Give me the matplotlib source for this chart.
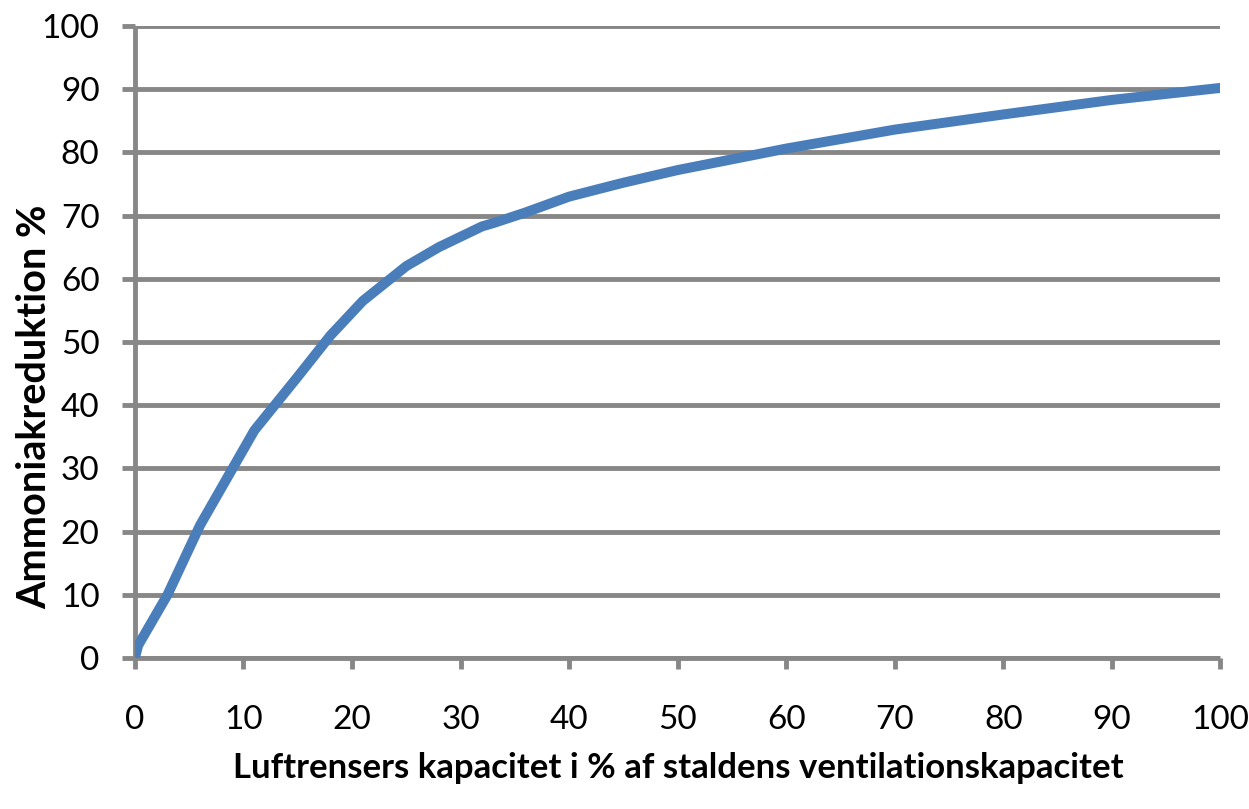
import matplotlib
matplotlib.use('Agg')
import matplotlib.pyplot as plt

plt.rcParams['font.family'] = ['Lato', 'DejaVu Sans']

# Luftrenserens kapacitet (%) og ammoniakreduktion (%)
kapacitet = [0, 0.3, 3, 6, 8, 11, 15, 18, 21, 25, 28, 32, 33, 36, 40, 45, 50, 60, 70, 80, 90, 100]
reduktion = [0, 2, 10, 21, 27, 36, 44.5, 51, 56.5, 62, 65, 68.3, 68.8, 70.5, 73.0, 75.2, 77.2, 80.6, 83.6, 86.0, 88.3, 90.2]

x_ticks = list(range(0, 101, 10))
y_ticks = list(range(0, 101, 10))

grey = '#878787'
fig = plt.figure(figsize=(12.49, 8.09), dpi=100)
ax = fig.add_axes([0.108, 0.1866, 0.869, 0.7813])

ax.plot(kapacitet, reduktion, color='#4a7ebb', linewidth=7.2,
        solid_capstyle='round', solid_joinstyle='round', zorder=3)

ax.set_xlim(0, 100)
ax.set_ylim(0, 100)
ax.set_xticks(x_ticks)
ax.set_yticks(y_ticks)
ax.grid(axis='y', color=grey, linewidth=3.5, zorder=1)
ax.set_axisbelow(True)

for side in ['top', 'right']:
    ax.spines[side].set_visible(False)
for side in ['left', 'bottom']:
    ax.spines[side].set_color(grey)
    ax.spines[side].set_linewidth(3.5)
    ax.spines[side].set_capstyle('butt')

ax.tick_params(axis='x', direction='out', length=8, width=3.5, color=grey,
               labelsize=24, pad=26)
ax.tick_params(axis='y', direction='out', length=9.5, width=3.5, color=grey,
               labelsize=24, pad=16)

ax.set_ylabel('Ammoniakreduktion %', fontsize=28.5, fontweight='bold')
ax.set_xlabel('Luftrensers kapacitet i % af staldens ventilationskapacitet',
              fontsize=25, fontweight='bold')
ax.yaxis.label.set_va('center')
ax.yaxis.label.set_ha('center')
ax.xaxis.label.set_va('center')
ax.xaxis.label.set_ha('center')
ax.yaxis.set_label_coords(-0.092, 0.397)
ax.xaxis.set_label_coords(0.5005, -0.174)

plt.savefig('out.png', dpi=100)
